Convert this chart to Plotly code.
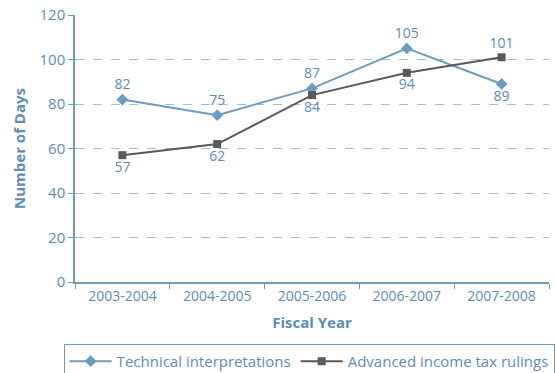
import plotly.graph_objects as go

fiscal_years = ["2003-2004", "2004-2005", "2005-2006", "2006-2007", "2007-2008"]
technical_interpretations = [82, 75, 87, 105, 89]
advanced_rulings = [57, 62, 84, 94, 101]

tech_label_pos = ["top center", "top center", "top center", "top center", "bottom center"]
ruling_label_pos = ["bottom center", "bottom center", "bottom center", "bottom center", "top center"]

TEXT = "#5b8db5"
AXIS = "#6f9bbb"
GRID = "#9fbfd8"
FONT = "Open Sans"

fig = go.Figure()
fig.add_trace(go.Scatter(
    x=fiscal_years, y=technical_interpretations, name="Technical interpretations",
    mode="lines+markers+text", text=[str(v) for v in technical_interpretations],
    textposition=tech_label_pos, textfont=dict(color=TEXT, size=14, family=FONT),
    line=dict(color="#6b9dc2", width=2),
    marker=dict(symbol="diamond", size=9, color="#6b9dc2"),
))
fig.add_trace(go.Scatter(
    x=fiscal_years, y=advanced_rulings, name="Advanced income tax rulings",
    mode="lines+markers+text", text=[str(v) for v in advanced_rulings],
    textposition=ruling_label_pos, textfont=dict(color=TEXT, size=14, family=FONT),
    line=dict(color="#595959", width=2),
    marker=dict(symbol="square", size=8, color="#595959"),
))

fig.update_layout(
    width=556, height=373,
    margin=dict(l=75, r=7, t=15, b=91, autoexpand=False),
    paper_bgcolor="white", plot_bgcolor="white",
    font=dict(family=FONT, color=TEXT, size=14),
    showlegend=True,
    legend=dict(
        orientation="h", x=-0.024, xanchor="left", y=-0.232, yanchor="top",
        bordercolor=AXIS, borderwidth=1, font=dict(size=15, color=TEXT, family=FONT),
        itemwidth=42, tracegroupgap=0,
    ),
    xaxis=dict(
        type="category", range=[-0.5, 4.5], tickson="boundaries",
        ticks="outside", ticklen=5, tickcolor=AXIS, showline=True, linecolor=AXIS, linewidth=1.5,
        showgrid=False, tickfont=dict(size=14, color=TEXT),
        title=dict(text="<b>Fiscal Year</b>", font=dict(size=15, color=TEXT), standoff=14),
    ),
    yaxis=dict(
        range=[0, 120], dtick=20, ticks="outside", ticklen=5, tickcolor=AXIS,
        showline=True, linecolor=AXIS, linewidth=1.5, zeroline=False,
        showgrid=True, gridcolor=GRID, griddash="dash", gridwidth=1,
        tickfont=dict(size=15, color=TEXT),
        title=dict(text="<b>Number of Days</b>", font=dict(size=15, color=TEXT), standoff=10),
    ),
)

fig.write_html("out.html")
